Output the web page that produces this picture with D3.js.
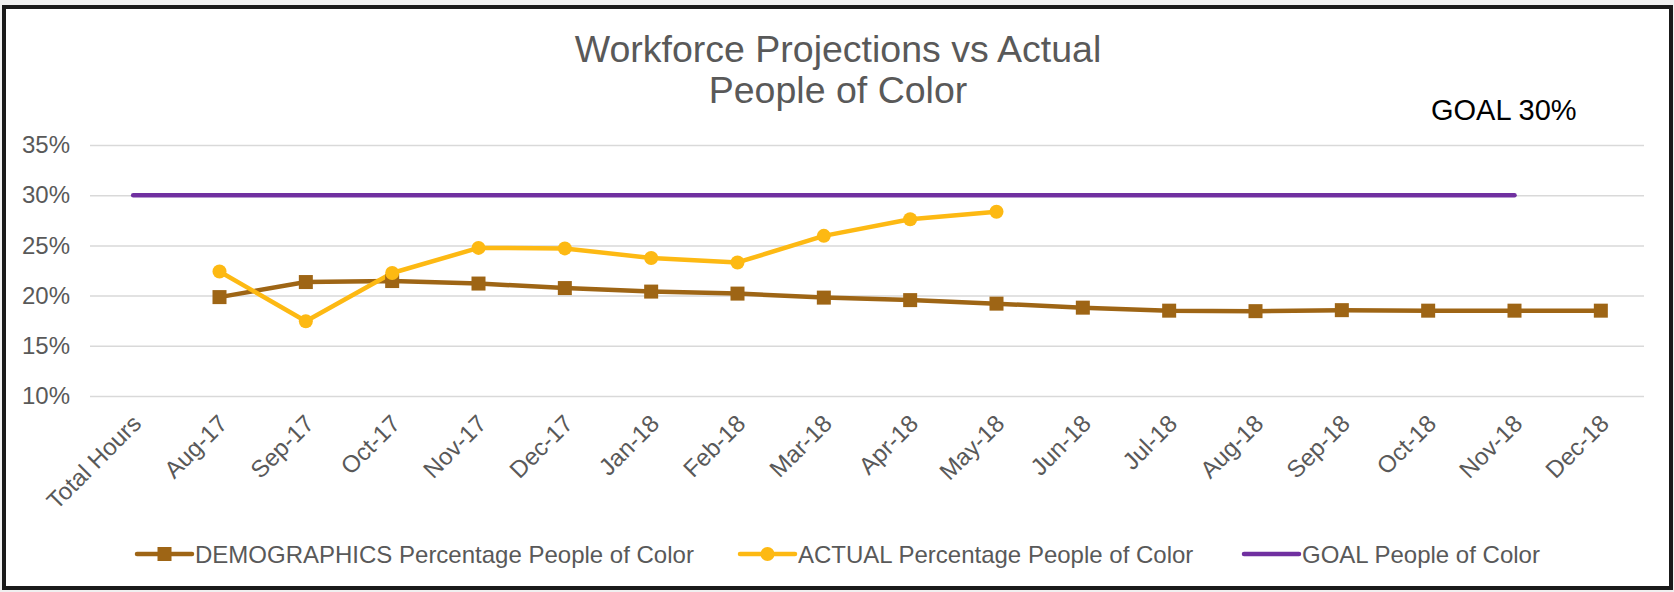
<!DOCTYPE html>
<html>
<head>
<meta charset="utf-8">
<script src="https://cdn.jsdelivr.net/npm/d3@7"></script>
<style>
  html, body { margin: 0; padding: 0; background: #f0f0f0; }
  svg { display: block; font-family: "Liberation Sans", Arial, sans-serif; }
</style>
</head>
<body>
<svg id="chart" width="1674" height="592"></svg>
<script>
// chart values
const categories = ["Total Hours", "Aug-17", "Sep-17", "Oct-17", "Nov-17", "Dec-17", "Jan-18", "Feb-18",
  "Mar-18", "Apr-18", "May-18", "Jun-18", "Jul-18", "Aug-18", "Sep-18", "Oct-18", "Nov-18", "Dec-18"]
const demographics = [null, 19.85, 21.35, 21.45, 21.2, 20.75, 20.4, 20.2, 19.8, 19.55, 19.2, 18.8, 18.5, 18.45, 18.55, 18.5, 18.5, 18.5]
const actual = [null, 22.4, 17.45, 22.25, 24.75, 24.7, 23.75, 23.3, 25.95, 27.6, 28.35, null, null, null, null, null, null, null]
const goal = [30, 30, 30, 30, 30, 30, 30, 30, 30, 30, 30, 30, 30, 30, 30, 30, 30, null]
const yTicks = [10, 15, 20, 25, 30, 35]
const seriesNames = ["DEMOGRAPHICS Percentage People of Color", "ACTUAL Percentage People of Color", "GOAL People of Color"]

const brown = "#9e6515"
const gold = "#fdb913"
const purple = "#7030a0"
const grey = "#595959"

const svg = d3.select("#chart")

// white panel with the black frame
svg.append("rect")
  .attr("x", 4).attr("y", 7)
  .attr("width", 1667).attr("height", 581)
  .attr("fill", "#fff")
  .attr("stroke", "#1a1a1a")
  .attr("stroke-width", 4)

const plotLeft = 90, plotRight = 1644, plotTop = 145, plotBottom = 396

const x = d3.scalePoint().domain(categories).range([plotLeft, plotRight]).padding(0.5)
const y = d3.scaleLinear().domain([10, 35]).range([plotBottom, plotTop])

// y axis + gridlines
const yAxis = svg.append("g")
  .attr("transform", "translate(" + plotLeft + ",0)")
  .call(d3.axisLeft(y).tickValues(yTicks).tickFormat(d => d + "%").tickSize(-(plotRight - plotLeft)).tickPadding(20))
yAxis.select(".domain").remove()
yAxis.selectAll("line").attr("stroke", "#d9d9d9").attr("stroke-width", 1.5)
yAxis.selectAll("text").attr("fill", grey).attr("font-size", 24).attr("font-family", "Liberation Sans, Arial, sans-serif")

// x axis labels, rotated
const xAxis = svg.append("g")
  .attr("transform", "translate(0," + plotBottom + ")")
  .call(d3.axisBottom(x).tickSize(0))
xAxis.select(".domain").remove()
xAxis.selectAll("text")
  .attr("fill", grey)
  .attr("font-size", 24)
  .attr("font-family", "Liberation Sans, Arial, sans-serif")
  .attr("text-anchor", "end")
  .attr("x", 0).attr("y", 0).attr("dy", 0)
  .attr("transform", "translate(9,29) rotate(-45)")

function drawLine(values, color) {
  const line = d3.line()
    .defined(d => d != null)
    .x((d, i) => x(categories[i]))
    .y(d => y(d))
  svg.append("path")
    .datum(values)
    .attr("d", line)
    .attr("fill", "none")
    .attr("stroke", color)
    .attr("stroke-width", 4.5)
    .attr("stroke-linejoin", "round")
    .attr("stroke-linecap", "round")
}

drawLine(goal, purple)
drawLine(demographics, brown)
drawLine(actual, gold)

const pts = (values) => values.map((v, i) => ({ v: v, c: categories[i] })).filter(d => d.v != null)

svg.append("g").selectAll("rect")
  .data(pts(demographics))
  .join("rect")
  .attr("x", d => x(d.c) - 7)
  .attr("y", d => y(d.v) - 7)
  .attr("width", 14).attr("height", 14)
  .attr("fill", brown)

svg.append("g").selectAll("circle")
  .data(pts(actual))
  .join("circle")
  .attr("cx", d => x(d.c))
  .attr("cy", d => y(d.v))
  .attr("r", 7)
  .attr("fill", gold)

// title
const title = svg.append("text")
  .attr("text-anchor", "middle")
  .attr("fill", grey)
  .attr("font-size", 37.5)
title.append("tspan").attr("x", 838).attr("y", 62).text("Workforce Projections vs Actual")
title.append("tspan").attr("x", 838).attr("y", 103).text("People of Color")

svg.append("text")
  .attr("x", 1431).attr("y", 120)
  .attr("fill", "#000")
  .attr("font-size", 29)
  .text("GOAL 30%")

// legend
const legendX = [137, 740, 1244]
const legendY = 554
const legendColors = [brown, gold, purple]
seriesNames.forEach((name, i) => {
  const g = svg.append("g").attr("transform", "translate(" + legendX[i] + "," + legendY + ")")
  g.append("line")
    .attr("x1", 0).attr("x2", 55)
    .attr("stroke", legendColors[i])
    .attr("stroke-width", 4.5)
    .attr("stroke-linecap", "round")
  if (i === 0) {
    g.append("rect").attr("x", 20.5).attr("y", -7).attr("width", 14).attr("height", 14).attr("fill", brown)
  } else if (i === 1) {
    g.append("circle").attr("cx", 27.5).attr("r", 7).attr("fill", gold)
  }
  g.append("text")
    .attr("x", 58).attr("y", 8.5)
    .attr("fill", grey)
    .attr("font-size", 24)
    .text(name)
})
</script>
</body>
</html>
